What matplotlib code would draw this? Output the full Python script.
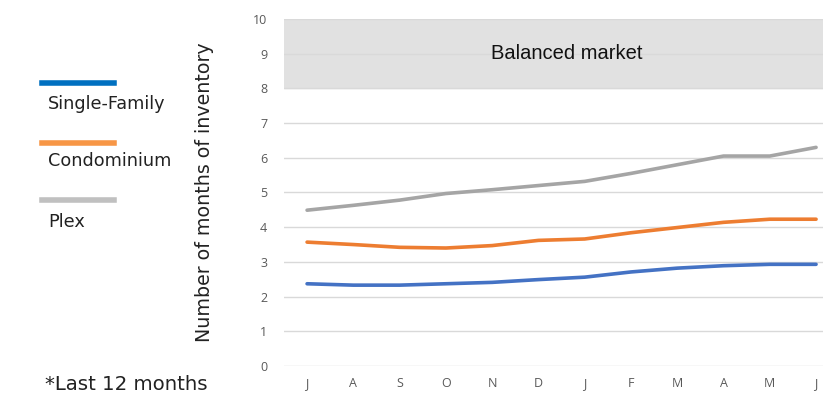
import matplotlib.pyplot as plt
import numpy as np

months = ["J", "A", "S", "O", "N", "D", "J", "F", "M", "A", "M", "J"]
single_family = [2.37, 2.33, 2.33, 2.37, 2.41, 2.49, 2.56, 2.71, 2.82, 2.89, 2.93, 2.93]
condominium = [3.57, 3.50, 3.42, 3.40, 3.47, 3.62, 3.66, 3.84, 3.99, 4.14, 4.23, 4.23]
plex = [4.49, 4.63, 4.78, 4.97, 5.08, 5.20, 5.32, 5.55, 5.80, 6.05, 6.05, 6.30]
balanced = (8, 10)

plt.rcParams['font.family'] = ['DejaVu Sans']

fig = plt.figure(figsize=(8.23, 3.93), dpi=100)
ax = fig.add_axes([0.345, 0.0687, 0.655, 0.883])

x = np.arange(len(months))
ax.axhspan(balanced[0], balanced[1], color="#E1E1E1", zorder=0)
ax.text(5.62, 9.0, "Balanced market", ha="center", va="center", fontsize=14.5,
        color="#111111", family="Liberation Sans")

lw = 2.6
ax.plot(x, single_family, color="#4472C4", lw=lw, solid_capstyle="round")
ax.plot(x, condominium, color="#ED7D31", lw=lw, solid_capstyle="round")
ax.plot(x, plex, color="#A5A5A5", lw=lw, solid_capstyle="round")

ax.set_ylim(0, 10)
ax.set_xlim(-0.5, 11.15)
ax.set_yticks(range(0, 11))
ax.set_xticks(x)
ax.set_xticklabels(months)
ax.grid(axis="y", color="#D9D9D9", lw=1)
ax.set_axisbelow(True)
for s in ax.spines.values():
    s.set_visible(False)
ax.tick_params(length=0, labelsize=9, colors="#595959", pad=8)
ax.tick_params(axis="y", pad=12)
for lab in ax.get_xticklabels() + ax.get_yticklabels():
    lab.set_family("Open Sans")
ax.set_ylabel("Number of months of inventory", fontsize=13.7, color="#222222")
ax.yaxis.set_label_coords((214 - 284) / 539, 0.5)

# legend drawn by hand in figure coords
legend = [("Single-Family", "#0070C0"), ("Condominium", "#F79646"), ("Plex", "#C0C0C0")]
line_y = [83, 143, 200]
text_y = [104, 161, 222]
for (name, col), ly, ty in zip(legend, line_y, text_y):
    fig.add_artist(plt.Line2D([42 / 823, 114 / 823], [1 - ly / 393] * 2, color=col, lw=4))
    fig.text(48 / 823, 1 - ty / 393, name, fontsize=12.7, color="#222222", va="center")

fig.text(45 / 823, 1 - 384 / 393, "*Last 12 months", fontsize=14.2, color="#222222", va="center")

fig.savefig("out.png", dpi=100)
